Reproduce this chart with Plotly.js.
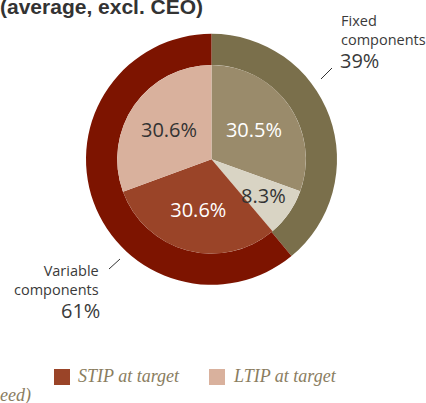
<!DOCTYPE html>
<html>
<head>
<meta charset="utf-8">
<script src="https://cdn.plot.ly/plotly-3.0.1.min.js"></script>
<style>
html,body{margin:0;padding:0;background:#fff;}
#chart{width:426px;height:403px;}
</style>
</head>
<body>
<div id="chart"></div>
<script>
const titleText = '(average, excl. CEO)';
const outerLabels = ['Fixed components', 'Variable components'];
const outerValues = [39, 61];
const innerLabels = ['Base salary', 'Other benefits', 'STIP at target', 'LTIP at target'];
const innerValues = [30.5, 8.3, 30.6, 30.6];
const legendLabels = ['STIP at target', 'LTIP at target'];
const footnoteText = 'eed)';

const outerColors = ['#7a6f4b', '#7d1400'];
const innerColors = ['#9a8b6b', '#d9d4c4', '#9a4428', '#d9b19d'];
const innerTextColors = ['#ffffff', '#333333', '#ffffff', '#333333'];

const W = 426, H = 403;
const cx = 211.5, cy = 159.3, rOut = 125.5, rIn = 94.3;
function dom(r){
  return {
    x: [(cx - r) / W, (cx + r) / W],
    y: [(H - cy - r) / H, (H - cy + r) / H]
  };
}
function px(x){ return x / W; }
function py(y){ return 1 - y / H; }

// the narrow slice gets its label placed at its mid-angle (computed from the data)
const smallIdx = 1;
const innerPositions = innerValues.map((v, i) => i === smallIdx ? 'none' : 'inside');
const total = innerValues.reduce((a, b) => a + b, 0);
const before = innerValues.slice(0, smallIdx).reduce((a, b) => a + b, 0);
const midAngle = 2 * Math.PI * (before + innerValues[smallIdx] / 2) / total;
const smallR = 0.67 * rIn;
const smallX = cx + smallR * Math.sin(midAngle);
const smallY = cy - smallR * Math.cos(midAngle);

const traces = [
  {
    type: 'pie',
    labels: outerLabels,
    values: outerValues,
    sort: false,
    direction: 'clockwise',
    rotation: 0,
    hole: rIn / rOut,
    domain: dom(rOut),
    marker: {colors: outerColors, line: {width: 0}},
    textinfo: 'none',
    hoverinfo: 'label+percent',
    showlegend: false
  },
  {
    type: 'pie',
    labels: innerLabels,
    values: innerValues,
    sort: false,
    direction: 'clockwise',
    rotation: 0,
    domain: dom(rIn),
    marker: {colors: innerColors, line: {width: 0}},
    texttemplate: '%{value:.1f}%',
    textposition: innerPositions,
    insidetextorientation: 'horizontal',
    textfont: {family: 'Open Sans, sans-serif', size: 20, color: innerTextColors},
    hoverinfo: 'label+value',
    showlegend: false
  }
];

const annFont = {family: 'Open Sans, sans-serif', size: 14.5, color: '#3a3a3a'};
const pctFont = {family: 'Open Sans, sans-serif', size: 20, color: '#3a3a3a'};
const legFont = {family: 'Liberation Serif, serif', size: 18, color: '#8a7d5f', style: 'italic'};

const annotations = [
  {text: '<b>' + titleText + '</b>', x: px(-2), y: py(15), xanchor: 'left', yanchor: 'bottom',
   font: {family: 'Liberation Sans, sans-serif', size: 21, color: '#333333'}, showarrow: false, yshift: -5},
  {text: 'Fixed<br>components', x: px(339), y: py(30), xanchor: 'left', yanchor: 'middle', align: 'left',
   font: annFont, showarrow: false},
  {text: outerValues[0] + '%', x: px(338), y: py(61), xanchor: 'left', yanchor: 'middle',
   font: pctFont, showarrow: false},
  {text: 'Variable<br>components', x: px(101), y: py(280), xanchor: 'right', yanchor: 'middle', align: 'right',
   font: annFont, showarrow: false},
  {text: outerValues[1] + '%', x: px(102), y: py(310), xanchor: 'right', yanchor: 'middle',
   font: pctFont, showarrow: false},
  {text: innerValues[smallIdx].toFixed(1) + '%', x: px(smallX), y: py(smallY), xanchor: 'center', yanchor: 'middle',
   font: {family: 'Open Sans, sans-serif', size: 20, color: innerTextColors[smallIdx]}, showarrow: false},
  {text: legendLabels[0], x: px(76), y: py(376), xanchor: 'left', yanchor: 'middle', font: legFont, showarrow: false},
  {text: legendLabels[1], x: px(231), y: py(376), xanchor: 'left', yanchor: 'middle', font: legFont, showarrow: false},
  {text: footnoteText, x: px(-2), y: py(395), xanchor: 'left', yanchor: 'middle', font: legFont, showarrow: false}
];

const shapes = [
  {type: 'line', xref: 'paper', yref: 'paper', x0: px(321), y0: py(79), x1: px(332), y1: py(68),
   line: {color: '#333333', width: 1}},
  {type: 'line', xref: 'paper', yref: 'paper', x0: px(109), y0: py(269), x1: px(120), y1: py(259),
   line: {color: '#333333', width: 1}},
  {type: 'rect', xref: 'paper', yref: 'paper', x0: px(54), y0: py(369), x1: px(70), y1: py(385),
   fillcolor: innerColors[2], line: {width: 0}},
  {type: 'rect', xref: 'paper', yref: 'paper', x0: px(209), y0: py(369), x1: px(225), y1: py(385),
   fillcolor: innerColors[3], line: {width: 0}}
];

const layout = {
  width: W, height: H,
  margin: {l: 0, r: 0, t: 0, b: 0},
  paper_bgcolor: '#ffffff',
  showlegend: false,
  annotations: annotations,
  shapes: shapes
};

Plotly.newPlot('chart', traces, layout, {displayModeBar: false, staticPlot: true});
</script>
</body>
</html>
